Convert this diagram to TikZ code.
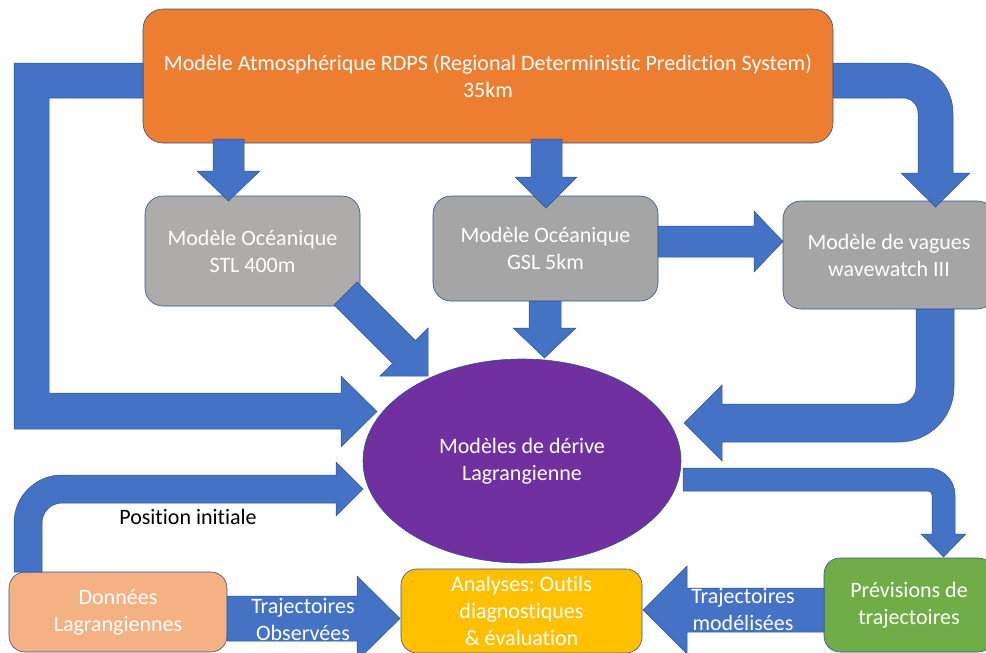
\documentclass[tikz,border=0pt]{standalone}
\usepackage{fontspec}
\setmainfont[Ligatures={NoCommon}]{Carlito}
\frenchspacing
\usetikzlibrary{shapes.geometric}
\definecolor{blueA}{HTML}{4472C4}
\definecolor{blueLine}{HTML}{2F528F}
\definecolor{orangeA}{HTML}{ED7D31}
\definecolor{grayA}{HTML}{AEABAB}
\definecolor{grayB}{HTML}{A5A5A5}
\definecolor{purpleA}{HTML}{7030A0}
\definecolor{peachA}{HTML}{F4B183}
\definecolor{yellowA}{HTML}{FFC000}
\definecolor{greenA}{HTML}{70AD47}
\tikzset{
  boxst/.style={draw=blueLine, line width=0.6pt, rounded corners=16pt, align=center,
    text=white, inner sep=0pt, font=\fontsize{22}{27}\selectfont},
  blockarrow/.style={fill=blueA, draw=blueLine, line width=0.5pt},
  lbl/.style={text=white, font=\fontsize{22}{27}\selectfont, inner sep=0pt},
}
\begin{document}
\begin{tikzpicture}[x=1pt, y=-1pt]
\useasboundingbox (0,0) rectangle (986,653);
\clip (0,0) rectangle (986,653);
% boxes
\node[boxst, fill=orangeA, rounded corners=20pt, minimum width=690pt, minimum height=134pt] (rdps) at (488,76)
  {Modèle Atmosphérique RDPS (Regional Deterministic Prediction System)\\35km};
\node[boxst, fill=grayA, rounded corners=18pt, minimum width=215pt, minimum height=110pt] (stl) at (252.5,251)
  {Modèle Océanique\\STL 400m};
\node[boxst, fill=grayB, rounded corners=18pt, minimum width=225pt, minimum height=105pt] (gsl) at (545.5,248.5)
  {Modèle Océanique\\GSL 5km};
\node[boxst, fill=grayB, rounded corners=18pt, minimum width=212pt, minimum height=108pt] (wave) at (889,255)
  {Modèle de vagues\\wavewatch III};
\node[ellipse, draw=blueLine, line width=0.6pt, fill=purpleA, text=white, align=center, inner sep=0pt,
  minimum width=318pt, minimum height=204pt, font=\fontsize{22}{27}\selectfont] (drift) at (522,461)
  {Modèles de dérive\\Lagrangienne};
\node[boxst, fill=greenA, minimum width=170pt, minimum height=94pt] (prev) at (909,605)
  {Prévisions de\\trajectoires};
\node[boxst, fill=yellowA, minimum width=241pt, minimum height=84pt] (anal) at (521.5,611)
  {Analyses: Outils\\diagnostiques\\\& évaluation};
\node[boxst, fill=peachA, minimum width=218pt, minimum height=80pt] (donn) at (118,612)
  {Données\\Lagrangiennes};
% arrows
% RDPS -> drift (left bent)
\draw[blockarrow] (143,63) -- (14,63) -- (14,429) -- (341,429) -- (341,447) -- (377,411.5)
  -- (341,376) -- (341,393) -- (49,393) -- (49,98) -- (143,98) -- cycle;
% RDPS -> STL
\draw[blockarrow] (213,139) -- (244,139) -- (244,171) -- (260,171) -- (228.5,201) -- (197,171) -- (213,171) -- cycle;
% RDPS -> GSL
\draw[blockarrow] (531,139) -- (562,139) -- (562,177) -- (577,177) -- (546,208) -- (515,177) -- (531,177) -- cycle;
% RDPS -> wave (curved)
\draw[blockarrow] (833,63) -- (903,63) arc[start angle=-90, end angle=0, radius=50] -- (953,173) -- (970,173)
  -- (935.5,207) -- (901,173) -- (918,173) -- (918,113) arc[start angle=0, end angle=-90, radius=15]
  -- (833,98) -- cycle;
% GSL -> wave
\draw[blockarrow] (658,226) -- (754,226) -- (754,211) -- (783,241.5) -- (754,272) -- (754,257) -- (658,257) -- cycle;
% STL -> drift (diagonal)
\draw[blockarrow] (357,282) -- (415.5,340.5) -- (428,328) -- (428,376) -- (380,376) -- (392.5,363.5) -- (334,305) -- cycle;
% GSL -> drift
\draw[blockarrow] (529,301) -- (561,301) -- (561,328) -- (576,328) -- (544.5,358) -- (513,328) -- (529,328) -- cycle;
% wave -> drift (curved)
\draw[blockarrow] (916,309) -- (954,309) -- (954,387) arc[start angle=0, end angle=90, radius=55]
  -- (722,442) -- (722,461) -- (684,423) -- (722,385) -- (722,404) -- (899,404)
  arc[start angle=90, end angle=0, radius=17] -- cycle;
% drift -> prev (curved)
\draw[blockarrow] (683,468) -- (928,468) arc[start angle=-90, end angle=0, radius=27] -- (955,534) -- (966,534)
  -- (943.5,557) -- (921,534) -- (932,534) -- (932,495) arc[start angle=0, end angle=-90, radius=4]
  -- (683,491) -- cycle;
% donn -> drift (position initiale)
\draw[blockarrow] (14,572) -- (14,523) arc[start angle=180, end angle=270, radius=48] -- (336,475) -- (336,462)
  -- (363,489) -- (336,516) -- (336,503) -- (62,503) arc[start angle=270, end angle=180, radius=20]
  -- (42,572) -- cycle;
% donn -> anal
\draw[blockarrow] (227,596) -- (357,596) -- (357,576) -- (400,618.5) -- (357,661) -- (357,641) -- (227,641) -- cycle;
% prev -> anal
\draw[blockarrow] (824,588) -- (687,588) -- (687,566) -- (643,610) -- (687,654) -- (687,632) -- (824,632) -- cycle;
% labels
\node[lbl, text=black] (lpos) at (188,517) {Position initiale};
\node[lbl, align=center] (lobs) at (303,620) {Trajectoires\\Observées};
\node[lbl, align=center] (lmod) at (743,610) {Trajectoires\\modélisées};
\end{tikzpicture}
\end{document}
